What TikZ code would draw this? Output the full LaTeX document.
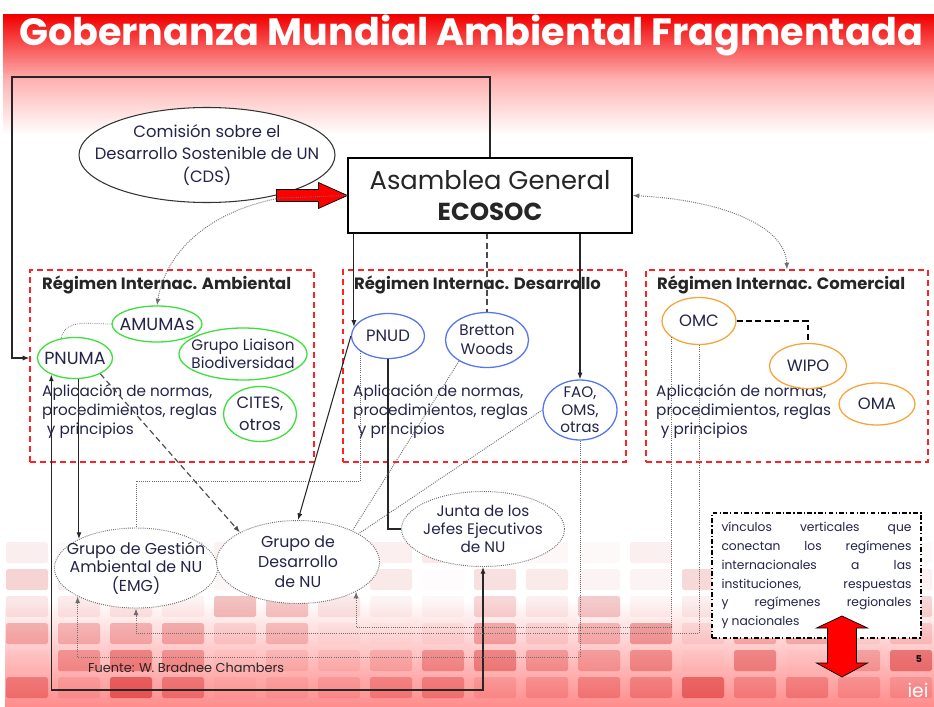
\documentclass[tikz,border=0pt]{standalone}
\usepackage{fontspec}
\setmainfont{Poppins}
\usetikzlibrary{arrows.meta,positioning,shapes.geometric,calc}
\definecolor{Ink}{HTML}{24244A}
\definecolor{RegRed}{HTML}{FF2222}
\definecolor{LeafGreen}{HTML}{3CE03C}
\definecolor{SkyBlue}{HTML}{5577EE}
\definecolor{Amber}{HTML}{F6A53A}
\definecolor{Slate}{HTML}{6E6E6E}
\newcommand{\pxu}{0.03cm}

\begin{document}
\begin{tikzpicture}[x=0.03cm, y=-0.03cm,
    every node/.style={text=Ink, font=\fontsize{13}{17}\selectfont},
    regime/.style={rectangle, draw=RegRed, line width=1pt, dash pattern=on 5pt off 3.5pt, minimum height=192*\pxu},
    regtitle/.style={anchor=west, text=black!85, font=\fontsize{14}{16}\selectfont\bfseries},
    rules/.style={anchor=north west, align=left, inner sep=0pt, font=\fontsize{13}{16.5}\selectfont},
    oval/.style={ellipse, fill=white, inner xsep=-14pt, inner ysep=-8pt, align=center},
    env/.style={oval, draw=LeafGreen, line width=1.1pt},
    dev/.style={oval, draw=SkyBlue, line width=1.1pt},
    trade/.style={oval, draw=Amber, line width=1.1pt},
    unbody/.style={oval, draw=Slate, densely dotted, line width=0.8pt},
    link/.style={-{Latex[length=2mm]}, line width=0.9pt, black!85},
    plainlink/.style={line width=0.9pt, black!85},
    dotlink/.style={densely dotted, line width=0.8pt, Slate},
    dashlink/.style={dash pattern=on 5pt off 3pt, line width=1pt, black!70},
    bigarrow/.style={fill=red, draw=black, line width=0.6pt, line join=miter},
]
    % background
    \fill[white] (0,0) rectangle (934,706);
    \shade[top color=red!95!black, bottom color=red!30] (3,15) rectangle (934,80);
    \shade[top color=red!30, bottom color=white] (3,80) rectangle (934,135);
    \shade[top color=white, bottom color=red!45] (5,600) rectangle (934,706);
    \pgfmathsetseed{11}
    \foreach \c in {0,...,17}
        \foreach \r in {0,...,5} {
            \pgfmathsetmacro\op{rnd*(0.1+0.08*\r)}
            \fill[red!80!black, opacity=\op, rounded corners=1.5pt] (6+52*\c,542+27*\r) rectangle ++(42,21);
        }
    \node[text=white, font=\fontsize{32.5}{34}\selectfont\bfseries] (title) at (471,35) {Gobernanza Mundial Ambiental Fragmentada};

    % regimes
    \node[regime, minimum width=284*\pxu] (amb) at (172,366) {};
    \node[regime, minimum width=283*\pxu] (des) at (484.5,366) {};
    \node[regime, minimum width=282*\pxu] (com) at (787,366) {};
    \node[regtitle] (ambt) at (38,285) {Régimen Internac. Ambiental};
    \node[regtitle] (dest) at (350,285) {Régimen Internac. Desarrollo};
    \node[regtitle] (comt) at (653,285) {Régimen Internac. Comercial};
    \node[rules] (ambr) at (42,384) {Aplicación de normas,\\procedimientos, reglas\\\hspace{4pt}y principios};
    \node[rules] (desr) at (353,384) {Aplicación de normas,\\procedimientos, reglas\\\hspace{4pt}y principios};
    \node[rules] (comr) at (656,384) {Aplicación de normas,\\procedimientos, reglas\\\hspace{4pt}y principios};

    % top
    \node[oval, inner xsep=-30pt, draw=black!80, line width=0.9pt, minimum width=256*\pxu, minimum height=95*\pxu, font=\fontsize{14}{19.5}\selectfont] (cds) at (207,155) {Comisión sobre el\\Desarrollo Sostenible de UN\\(CDS)};
    \node[rectangle, draw=black, line width=1pt, fill=white, align=center, minimum width=284*\pxu, minimum height=75*\pxu, text=black!85, font=\fontsize{22}{27}\selectfont] (asam) at (490,195.5)
        {Asamblea General\\{\fontsize{21}{27}\selectfont\bfseries ECOSOC}};

    % environment
    \node[env, minimum width=90*\pxu, minimum height=36*\pxu, font=\fontsize{15}{17}\selectfont] (amumas) at (157,324) {AMUMAs};
    \node[env, minimum width=75*\pxu, minimum height=41*\pxu, font=\fontsize{15}{17}\selectfont] (pnuma) at (75,358) {PNUMA};
    \node[env, minimum width=128*\pxu, minimum height=52*\pxu, font=\fontsize{13}{15}\selectfont] (liaison) at (243,354) {Grupo Liaison\\Biodiversidad};
    \node[env, minimum width=73*\pxu, minimum height=55*\pxu, font=\fontsize{14}{19}\selectfont] (cites) at (260,414) {CITES,\\otros};

    % development
    \node[dev, minimum width=73*\pxu, minimum height=45*\pxu, font=\fontsize{14}{16}\selectfont] (pnud) at (388,336) {PNUD};
    \node[dev, minimum width=83*\pxu, minimum height=55*\pxu, font=\fontsize{13}{16}\selectfont] (bw) at (487,340) {Bretton\\Woods};
    \node[dev, minimum width=74*\pxu, minimum height=60*\pxu, font=\fontsize{13}{15}\selectfont] (fao) at (580,410) {FAO,\\OMS,\\otras};

    % trade
    \node[trade, minimum width=74*\pxu, minimum height=47*\pxu, font=\fontsize{14}{16}\selectfont] (omc) at (699,321) {OMC};
    \node[trade, minimum width=77*\pxu, minimum height=45*\pxu, font=\fontsize{14}{16}\selectfont] (wipo) at (808,366) {WIPO};
    \node[trade, minimum width=76*\pxu, minimum height=42*\pxu, font=\fontsize{14}{16}\selectfont] (oma) at (877,404) {OMA};

    % UN groups
    \node[unbody, minimum width=163*\pxu, minimum height=80*\pxu, font=\fontsize{13.5}{16}\selectfont] (emg) at (136,568) {Grupo de Gestión\\Ambiental de NU\\(EMG)};
    \node[unbody, minimum width=163*\pxu, minimum height=83*\pxu, font=\fontsize{13.5}{17}\selectfont] (gdd) at (298,562) {Grupo de\\Desarrollo\\de NU};
    \node[unbody, minimum width=163*\pxu, minimum height=75*\pxu, font=\fontsize{13}{15.3}\selectfont] (junta) at (483,529) {Junta de los\\Jefes Ejecutivos\\de NU};

    % note
    \node[rectangle, draw=black, fill=white, line width=0.9pt, dash pattern=on 4pt off 2pt on 1pt off 2pt,
        minimum width=209*\pxu, minimum height=125*\pxu, align=left, font=\fontsize{10.5}{16}\selectfont] (note) at (816.5,575.5)
        {\makebox[5.7cm][s]{vínculos verticales que}\\\makebox[5.7cm][s]{conectan los regímenes}\\\makebox[5.7cm][s]{internacionales a las}\\\makebox[5.7cm][s]{instituciones, respuestas}\\\makebox[5.7cm][s]{y regímenes regionales}\\y nacionales};
    \draw[bigarrow] (842,616) -- ++(25.5,12) -- ++(-11,0) -- ++(0,35) -- ++(11,0) -- (842,677) -- ++(-25.5,-14) -- ++(11,0) -- ++(0,-35) -- ++(-11,0) -- cycle;

    \node[anchor=west, text=black!85, font=\fontsize{11}{13}\selectfont] (source) at (84,668) {Fuente: W. Bradnee Chambers};
    \node[text=black, font=\fontsize{8}{10}\selectfont\bfseries] (page) at (919,659) {5};
    \node[text=white, font=\fontsize{16}{18}\selectfont] (logo) at (918,690) {iei};

    % connectors
    \draw[link] (asam.north) |- (12,77) |- (amb.west |- pnuma.west);
    \draw[bigarrow] (asam.west) -- ++(-29,-13) -- ++(0,7) -- ++(-42,0) -- ++(0,12) -- ++(42,0) -- ++(0,7) -- cycle;
    \draw[dotlink, -{Latex[length=2mm]}] (asam.west) -- (280,198) .. controls (205,212) and (165,255) .. (amumas.north);
    \draw[dotlink, {Latex[length=2mm]}-{Latex[length=2mm]}] (asam.east) .. controls (720,200) and (785,225) .. (com.north);
    \draw[link] (pnud.165 |- asam.south) -- (pnud.165);
    \draw[dashlink] (bw.north |- asam.south) -- (bw.north);
    \draw[link] (fao.north |- asam.south) -- (fao.north);

    \draw[dotlink, line width=0.6pt] (amumas.west) to[out=180, in=80] (pnuma.125);
    \draw[dashlink, black] (omc.east) -| (wipo.north);

    \draw[link] (emg.153 |- pnuma.south) -- (emg.153);
    \draw[link, {Latex[length=2mm]}-{Latex[length=2mm]}] (pnuma.215) -- (pnuma.215 |- 0,690) -| (junta.south);
    \draw[dashlink, -{Latex[length=2mm]}] (pnuma.328) -- (gdd.153);

    \draw[link] (pnud.west) -- (gdd.north);
    \draw[plainlink] (pnud.south) |- (junta.west);
    \draw[dotlink] (pnud.209) -- (pnud.209 |- 0,481) -| (emg.north);

    \draw[dotlink] (bw.217) -- (gdd.30);
    \draw[dotlink] (fao.west) -- (gdd.25);
    \draw[dotlink, -{Latex[length=2mm]}] (fao.south) -- (fao.south |- 0,657) -| (emg.206);

    \draw[dotlink, -{Latex[length=2mm]}] (omc.210) -- (omc.210 |- 0,627) -| (gdd.333);
    \draw[dotlink, -{Latex[length=2mm]}] (omc.south) -- (omc.south |- 0,633) -| (emg.south);
\end{tikzpicture}
\end{document}
